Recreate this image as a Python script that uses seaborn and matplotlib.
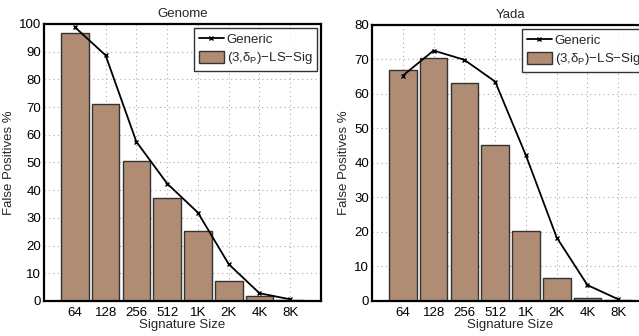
import matplotlib
matplotlib.use("Agg")
import matplotlib.pyplot as plt
import seaborn as sns
import pandas as pd

sizes = ["64", "128", "256", "512", "1K", "2K", "4K", "8K"]
genome_sig = [96.6, 71.0, 50.5, 37.3, 25.3, 7.3, 1.8, 0.2]
genome_generic = [98.9, 88.7, 57.5, 42.4, 31.9, 13.3, 2.8, 0.6]
yada_sig = [66.9, 70.3, 63.2, 45.2, 20.2, 6.8, 1.0, 0.2]
yada_generic = [65.3, 72.6, 69.9, 63.6, 42.2, 18.4, 4.6, 0.5]
titles = ["Genome", "Yada"]
ymaxes = [100, 80]

sns.set_style("white")
plt.rcParams["font.family"] = ["Liberation Sans", "DejaVu Sans"]
plt.rcParams["mathtext.fontset"] = "custom"
plt.rcParams["mathtext.rm"] = "Liberation Sans"
plt.rcParams["mathtext.it"] = "Liberation Sans"

fig = plt.figure(figsize=(6.39, 3.36), dpi=100)
positions = [[0.0689, 0.1042, 0.4335, 0.8244], [0.5822, 0.1042, 0.4335, 0.8214]]
data = [(genome_sig, genome_generic), (yada_sig, yada_generic)]
fs = 9.5

for i in range(2):
    ax = fig.add_axes(positions[i])
    sig, gen = data[i]
    df = pd.DataFrame({"size": sizes, "sig": sig, "gen": gen})
    sns.barplot(data=df, x="size", y="sig", order=sizes, color="#b08c74",
                saturation=1, width=0.9, edgecolor="#333333", linewidth=1.0,
                ax=ax, label=r"(3,$\mathregular{\delta_P}$)$\mathregular{-}$LS$\mathregular{-}$Sig", zorder=2)
    sns.lineplot(data=df, x="size", y="gen", sort=False, color="black", linewidth=1.3,
                 marker="x", markersize=3, markeredgewidth=1.0, markeredgecolor="black",
                 ax=ax, label="Generic", zorder=3)
    ax.set_xlim(-1, 8)
    ax.set_ylim(0, ymaxes[i])
    ax.set_yticks(range(0, ymaxes[i] + 1, 10))
    ax.grid(True, linestyle=(0, (1, 3)), color="#aaaaaa", linewidth=0.8, zorder=0)
    ax.set_axisbelow(True)
    for s in ax.spines.values():
        s.set_visible(True)
        s.set_linewidth(1.6)
        s.set_color("black")
    ax.tick_params(axis="y", length=0, labelsize=fs, pad=2, colors="black")
    ax.tick_params(axis="x", length=0, labelsize=fs, pad=4, colors="black")
    ax.set_xlabel("Signature Size", fontsize=fs, labelpad=0)
    ax.set_ylabel("False Positives %", fontsize=fs, labelpad=3)
    ax.set_title(titles[i], fontsize=fs, pad=5)
    h, l = ax.get_legend_handles_labels()
    order = [l.index("Generic"), 1 - l.index("Generic")]
    leg = ax.legend([h[j] for j in order], [l[j] for j in order], loc="upper right",
                    fontsize=fs, frameon=True, fancybox=False, borderaxespad=0.3,
                    handlelength=1.9, handleheight=1.1, handletextpad=0.2,
                    borderpad=0.35, labelspacing=0.3)
    leg.get_frame().set_edgecolor("black")
    leg.get_frame().set_linewidth(1.0)

fig.savefig("out.png", dpi=100)
